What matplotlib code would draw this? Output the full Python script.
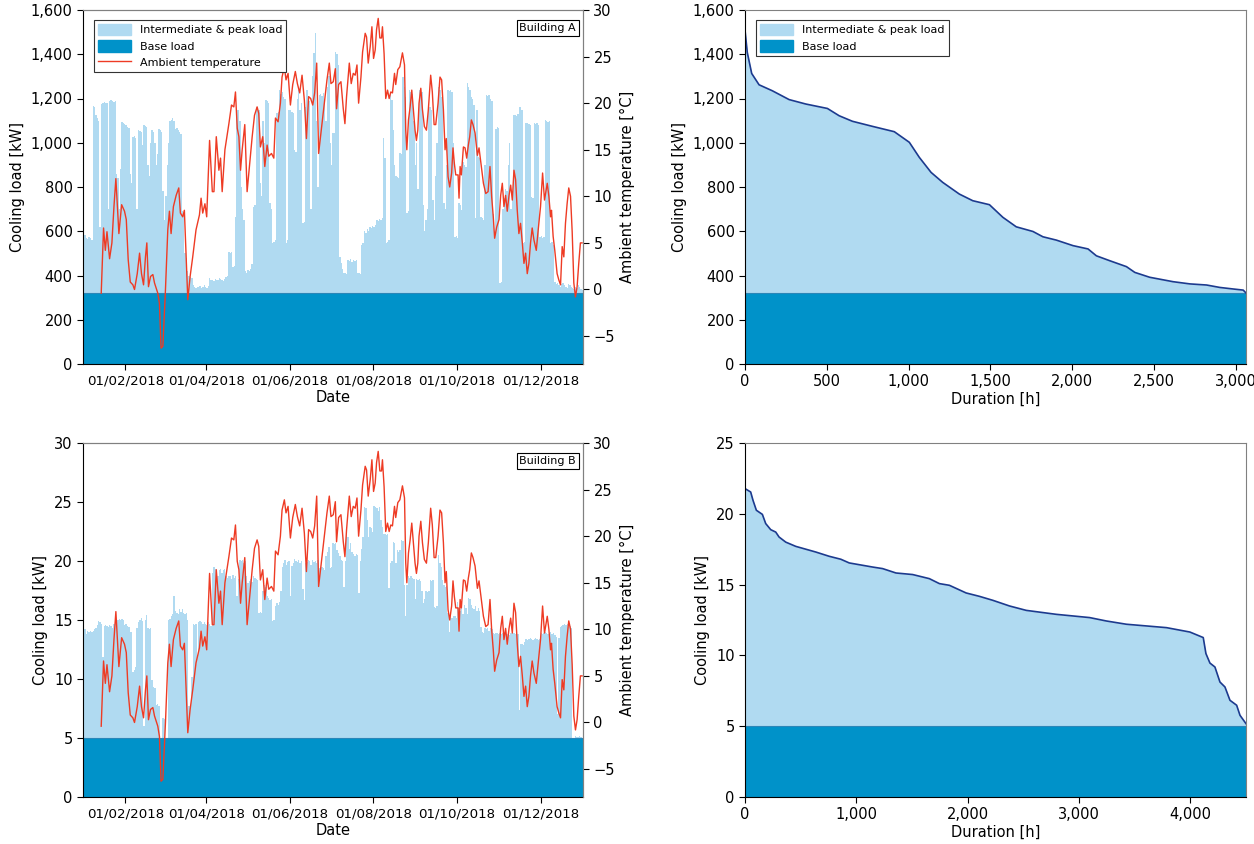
import numpy as np
import pandas as pd
import matplotlib
matplotlib.use('Agg')
import matplotlib.pyplot as plt
import matplotlib.dates as mdates
from matplotlib.patches import Patch
from matplotlib.lines import Line2D
from matplotlib.ticker import FuncFormatter, MultipleLocator

plt.rcParams['font.family'] = ['DejaVu Sans']

# daily cooling load, building A [kW] (1 Jan .. 31 Dec 2018)
load_a = [
    590, 585, 570, 565, 572, 568, 560, 1165, 1160, 1125,
    1110, 1100, 620, 1175, 1180, 1185, 1180, 1178, 700, 1190,
    1193, 1190, 1185, 1190, 860, 840, 700, 880, 1095, 1090,
    1085, 1080, 1070, 1065, 860, 820, 1026, 1030, 1020, 700,
    1058, 1055, 1050, 990, 1080, 1075, 1070, 900, 850, 1000,
    1058, 1050, 1000, 900, 950, 1060, 1058, 1050, 780, 650,
    760, 900, 1000, 1100, 1103, 1110, 1100, 1060, 1065, 1058,
    1050, 1040, 690, 680, 500, 480, 420, 400, 395, 390,
    355, 350, 345, 350, 348, 352, 345, 350, 355, 348,
    345, 352, 390, 380, 380, 375, 385, 378, 380, 390,
    385, 380, 375, 385, 395, 400, 507, 500, 505, 440,
    445, 666, 1148, 1150, 1100, 800, 700, 650, 420, 410,
    425, 420, 430, 450, 711, 720, 1163, 1160, 1150, 816,
    760, 1100, 1000, 1193, 1190, 1180, 726, 700, 546, 550,
    560, 1133, 1140, 1238, 1220, 1230, 1208, 1200, 546, 560,
    1150, 1148, 1140, 1135, 968, 960, 1200, 1238, 1150, 1180,
    636, 640, 1160, 1238, 1200, 1190, 700, 1300, 1404, 1494,
    1100, 800, 1215, 1220, 1210, 1225, 1200, 1100, 1250, 1300,
    1000, 900, 1042, 1042, 1412, 1400, 1350, 485, 455, 430,
    410, 410, 405, 470, 465, 475, 460, 470, 465, 470,
    410, 410, 405, 540, 545, 600, 590, 610, 600, 620,
    615, 625, 620, 630, 650, 645, 655, 650, 660, 1020,
    930, 546, 550, 560, 1215, 1193, 1058, 900, 850, 847,
    840, 952, 950, 1299, 1250, 1208, 681, 690, 1238, 1230,
    1220, 1100, 900, 1000, 790, 1240, 1238, 1230, 720, 600,
    650, 700, 1163, 1160, 1150, 740, 650, 850, 1000, 1252,
    1240, 1208, 1200, 726, 700, 900, 1238, 1235, 1240, 1230,
    1000, 576, 580, 570, 727, 720, 697, 914, 900, 892,
    1269, 1250, 1238, 1208, 1200, 1170, 660, 1150, 937, 930,
    666, 660, 650, 900, 1215, 1210, 1215, 1200, 1190, 680,
    600, 1060, 1070, 1065, 365, 370, 700, 750, 790, 780,
    900, 1000, 700, 750, 1125, 1125, 1120, 1130, 1163, 1160,
    1150, 546, 550, 1088, 1090, 1085, 1080, 757, 750, 1088,
    1085, 1090, 1080, 576, 580, 570, 575, 1103, 1100, 1095,
    1100, 546, 550, 540, 370, 360, 365, 355, 350, 360,
    365, 355, 350, 345, 360, 355, 350, 345, 340, 350,
    345, 355, 350, 340, 335,
]

# daily cooling load, building B [kW]
load_b = [
    14.0, 14.2, 13.8, 14.1, 14.0, 14.1, 14.0, 14.1, 14.2, 14.3,
    14.6, 14.9, 14.8, 14.7, 11.9, 14.5, 14.6, 14.5, 14.4, 14.6,
    14.5, 14.3, 14.7, 14.8, 15.1, 15.0, 15.1, 15.0, 15.1, 15.0,
    14.6, 14.7, 14.5, 14.4, 14.0, 14.0, 10.6, 10.8, 11.0, 14.3,
    14.8, 15.0, 15.2, 14.9, 6.0, 15.0, 15.4, 14.3, 14.2, 14.3,
    9.9, 9.3, 9.2, 7.8, 7.9, 7.7, 5.0, 5.0, 6.7, 6.6,
    5.0, 5.0, 15.0, 15.1, 15.3, 15.5, 17.0, 15.8, 15.6, 15.5,
    15.9, 15.7, 15.9, 15.6, 15.5, 15.6, 15.0, 7.7, 7.8, 10.2,
    14.7, 14.6, 14.7, 12.0, 14.8, 14.9, 14.8, 14.7, 14.8, 14.7,
    14.6, 14.8, 14.7, 14.5, 19.0, 19.5, 19.3, 19.2, 18.7, 19.2,
    19.3, 19.0, 19.2, 19.3, 18.7, 18.6, 18.7, 18.7, 18.5, 18.8,
    18.6, 18.7, 17.0, 18.5, 20.1, 20.0, 20.1, 19.8, 20.0, 18.7,
    18.1, 18.3, 18.5, 18.2, 18.7, 18.6, 18.5, 18.4, 15.6, 15.7,
    15.6, 17.5, 18.0, 17.8, 17.0, 16.9, 16.7, 16.8, 14.9, 15.0,
    16.2, 16.4, 16.3, 16.5, 17.5, 19.5, 19.8, 20.1, 19.7, 19.9,
    20.0, 17.0, 19.6, 19.8, 20.2, 20.0, 19.9, 20.1, 19.8, 20.0,
    17.6, 16.7, 19.8, 19.9, 20.1, 20.0, 19.7, 20.1, 19.9, 20.0,
    19.8, 20.1, 19.4, 19.3, 19.5, 19.4, 19.2, 20.4, 20.8, 21.2,
    19.4, 19.5, 21.5, 21.4, 21.5, 20.9, 20.7, 20.4, 20.1, 20.0,
    17.8, 20.0, 22.9, 22.0, 21.0, 21.5, 20.8, 20.6, 20.4, 20.6,
    20.5, 17.3, 20.0, 21.0, 22.0, 24.6, 24.5, 23.5, 22.0, 22.9,
    22.8, 22.5, 24.7, 24.6, 24.5, 24.2, 24.6, 23.5, 22.9, 22.3,
    22.3, 22.2, 22.3, 17.7, 19.8, 20.0, 21.6, 21.5, 19.8, 20.9,
    20.8, 20.9, 21.8, 21.7, 18.0, 15.3, 18.0, 18.7, 18.6, 18.7,
    18.6, 18.5, 16.8, 18.5, 18.4, 18.5, 18.3, 17.5, 16.4, 16.8,
    17.5, 17.4, 17.5, 18.4, 18.3, 18.4, 16.1, 16.0, 16.2, 20.5,
    19.8, 19.5, 18.4, 18.0, 17.8, 17.9, 15.6, 14.0, 15.3, 15.2,
    15.3, 15.3, 15.2, 16.5, 16.0, 15.8, 16.2, 15.5, 16.3, 16.0,
    15.5, 16.9, 16.8, 16.3, 16.0, 15.9, 16.2, 15.8, 16.0, 15.8,
    14.4, 14.0, 13.9, 14.3, 14.2, 14.3, 14.1, 14.3, 14.2, 13.9,
    13.8, 13.9, 13.9, 13.8, 13.9, 13.8, 13.9, 14.0, 13.9, 13.8,
    13.9, 13.7, 13.9, 14.0, 13.9, 13.8, 13.9, 13.8, 7.4, 13.0,
    13.0, 12.9, 13.1, 13.4, 13.3, 13.4, 13.5, 13.4, 13.3, 13.4,
    13.5, 13.4, 13.3, 13.4, 13.9, 13.8, 13.9, 14.0, 13.9, 13.8,
    13.9, 14.0, 13.8, 13.9, 13.7, 13.6, 7.0, 13.5, 14.4, 14.5,
    14.6, 14.7, 14.6, 14.7, 14.4, 14.5, 14.3, 5.0, 5.0, 5.2,
    5.1, 5.1, 5.2, 5.1, 5.0,
]

# ambient temperature [degC], day of year / value
temp_day = [
    13.3, 15.0, 16.3, 17.5, 19.4, 21.1, 22.6, 24.0, 26.2, 28.2, 30.3, 31.6, 33.0, 34.5, 36.4,
    37.6, 39.6, 41.3, 42.7, 44.2, 45.6, 46.6, 47.8, 49.3, 51.0, 52.2, 54.6, 55.8, 57.0, 58.3,
    60.2, 61.9, 63.1, 64.3, 66.0, 68.0, 69.9, 71.1, 72.8, 74.0, 75.2, 76.5, 78.2, 80.1, 82.5,
    85.0, 86.2, 87.4, 89.0, 90.3, 92.4, 94.4, 95.6, 97.3, 99.2, 100.4, 101.6, 103.6, 105.3, 106.5,
    108.4, 110.1, 111.3, 112.6, 113.8, 115.0, 116.2, 118.1, 119.8, 121.5, 123.5, 125.2, 127.1, 128.3, 129.5,
    131.2, 132.7, 134.4, 135.6, 137.6, 139.3, 140.5, 142.4, 144.1, 145.3, 147.0, 148.2, 149.7, 151.4, 153.1,
    155.0, 156.5, 158.2, 159.9, 161.6, 163.1, 164.7, 166.2, 167.7, 169.1, 170.6, 172.0, 174.5, 176.4, 178.1,
    179.8, 181.0, 182.7, 184.2, 185.1, 186.6, 188.3, 190.0, 191.2, 192.4, 194.4, 195.8, 197.3, 198.7, 200.0,
    201.2, 202.9, 204.1, 206.0, 207.0, 208.2, 209.7, 210.9, 212.1, 213.3, 214.3, 215.5, 216.7, 217.9, 218.6,
    219.8, 221.0, 222.3, 223.5, 224.7, 225.9, 227.4, 228.3, 229.8, 231.3, 233.2, 234.7, 235.6, 236.4, 237.6,
    238.8, 240.0, 241.2, 242.4, 243.4, 244.4, 245.3, 246.6, 247.8, 249.2, 250.7, 252.1, 253.8, 255.0, 256.3,
    257.5, 259.2, 260.6, 261.8, 263.1, 264.3, 265.2, 266.5, 267.7, 269.1, 270.1, 271.1, 272.1, 273.8, 274.5,
    275.3, 276.2, 277.7, 278.9, 280.1, 281.3, 282.3, 283.5, 284.7, 286.2, 287.9, 289.1, 290.8, 292.3, 294.0,
    295.7, 297.1, 298.3, 299.5, 300.5, 302.0, 303.7, 304.9, 306.1, 307.3, 308.5, 309.7, 311.0, 312.2, 313.4,
    314.6, 315.8, 317.0, 318.2, 319.4, 320.7, 321.9, 323.1, 324.3, 325.5, 326.7, 327.9, 329.2, 330.9, 332.3,
    334.0, 335.5, 336.9, 338.9, 340.1, 341.3, 342.0, 343.2, 344.4, 346.1, 347.4, 348.6, 349.8, 351.0, 352.2,
    353.4, 354.6, 355.9, 357.1, 358.3, 359.5, 360.7, 361.9, 363.1, 364.3,
]
temp_c = [
    -0.4, 6.6, 4.2, 6.2, 3.3, 5.0, 8.9, 11.9, 6.0, 9.1, 8.4, 7.5, 3.2, 0.8, 0.5,
    0.0, 1.7, 3.9, 1.7, 0.5, 3.5, 5.0, 0.3, 1.4, 1.6, 0.7, -0.4, -1.5, -6.3, -6.1,
    0.0, 6.4, 8.4, 6.0, 8.9, 10.1, 10.9, 8.2, 7.8, 8.5, 3.9, -1.1, 1.4, 3.5, 6.4,
    8.0, 9.8, 8.2, 9.2, 7.8, 16.0, 10.5, 10.5, 16.4, 12.8, 14.1, 10.5, 15.0, 16.6, 17.8,
    19.8, 19.6, 21.2, 17.3, 16.4, 12.8, 15.0, 17.7, 10.5, 13.2, 16.4, 18.7, 19.6, 18.9, 15.3,
    16.4, 13.2, 15.5, 14.3, 14.6, 14.1, 18.4, 18.0, 20.0, 22.8, 23.9, 22.5, 23.2, 19.8, 22.0,
    23.4, 22.1, 21.1, 23.0, 20.3, 16.2, 20.7, 20.5, 19.8, 21.1, 24.3, 14.6, 17.8, 20.3, 22.5,
    24.3, 22.1, 22.3, 23.7, 19.4, 22.0, 22.3, 19.4, 17.8, 20.7, 24.3, 22.1, 23.2, 23.0, 24.1,
    20.0, 22.8, 25.5, 27.5, 27.1, 24.3, 26.1, 28.2, 24.8, 25.7, 27.9, 29.1, 27.0, 27.0, 28.2,
    25.3, 20.5, 21.4, 20.5, 21.2, 21.1, 23.2, 22.0, 23.6, 23.9, 25.4, 24.1, 17.1, 15.0, 18.2,
    19.6, 21.4, 19.3, 17.1, 16.0, 17.1, 20.0, 21.6, 19.3, 17.5, 17.1, 19.3, 23.0, 21.2, 17.7,
    17.7, 20.0, 22.8, 22.5, 19.3, 15.0, 16.2, 12.1, 11.0, 12.5, 15.2, 13.5, 12.3, 12.3, 9.8,
    13.2, 12.3, 15.3, 15.2, 14.1, 15.5, 16.4, 18.2, 17.7, 16.8, 14.4, 15.2, 13.2, 11.4, 10.3,
    10.5, 13.2, 10.0, 7.8, 5.5, 6.7, 7.5, 10.1, 11.4, 8.9, 10.1, 8.4, 10.1, 11.2, 9.6,
    12.8, 11.8, 8.5, 6.0, 7.1, 5.0, 2.8, 3.9, 1.7, 2.8, 5.0, 6.6, 5.3, 4.2, 6.4,
    8.9, 12.5, 9.6, 11.4, 10.0, 7.8, 8.5, 5.7, 4.2, 1.7, 1.0, 0.5, 4.6, 3.5, 7.1,
    9.2, 10.9, 10.0, 6.2, 0.7, -0.8, 0.3, 2.8, 5.0, 5.0,
]

# load duration curves
dur_a = [0, 14, 41, 86, 167, 270, 372, 504, 576, 657, 780, 913, 1005, 1066, 1138, 1209,
         1311, 1393, 1495, 1577, 1659, 1761, 1822, 1904, 2006, 2098, 2149, 2230, 2333,
         2384, 2475, 2618, 2721, 2823, 2904, 2986, 3047, 3064]
cool_a = [1509, 1408, 1313, 1262, 1235, 1195, 1175, 1155, 1122, 1097, 1074, 1050, 1002,
          934, 866, 821, 768, 738, 720, 663, 620, 599, 575, 560, 535, 520, 489, 467, 440,
          414, 392, 372, 362, 357, 346, 339, 334, 321]
dur_b = [0, 51, 72, 102, 156, 186, 231, 276, 306, 366, 456, 636, 756, 861, 936, 1146,
         1236, 1356, 1506, 1656, 1746, 1836, 1986, 2106, 2226, 2376, 2526, 2796, 3096,
         3246, 3426, 3786, 3996, 4116, 4140, 4176, 4221, 4266, 4311, 4356, 4416, 4446, 4500]
cool_b = [21.78, 21.54, 20.95, 20.25, 19.96, 19.31, 18.88, 18.71, 18.36, 18.0, 17.7,
          17.3, 17.0, 16.79, 16.53, 16.24, 16.13, 15.82, 15.71, 15.42, 15.07, 14.95,
          14.41, 14.17, 13.89, 13.49, 13.18, 12.9, 12.67, 12.43, 12.2, 11.96, 11.65,
          11.26, 10.13, 9.46, 9.18, 8.12, 7.77, 6.83, 6.48, 5.77, 5.18]

base_a = 320
base_b = 5

light = '#b0daf1'
dark = '#0092c9'
red = '#ee3b24'
navy = '#1c3a8e'
grey = '#808080'

t0 = mdates.date2num(pd.Timestamp('2018-01-01'))
edges = t0 + np.arange(366)
temp_x = t0 + np.array(temp_day)
date_ticks = mdates.date2num(pd.to_datetime(['2018-02-01', '2018-04-01', '2018-06-01',
                                            '2018-08-01', '2018-10-01', '2018-12-01']))

fig = plt.figure(figsize=(12.54, 8.44), dpi=100)
W, H = 1254, 844
FS = 10.5


def box(x0, y0, x1, y1):
    return [x0 / W, 1 - y1 / H, (x1 - x0) / W, (y1 - y0) / H]


def style(ax):
    ax.spines['top'].set_color(grey)
    ax.spines['right'].set_color(grey)
    ax.tick_params(labelsize=FS, direction='out', length=4)


comma = FuncFormatter(lambda v, p: f'{v:,.0f}')


def make_legend(ax, handles):
    leg = ax.legend(handles=handles, loc='upper left', bbox_to_anchor=(0.022, 0.972),
                    borderaxespad=0, fontsize=8, fancybox=False, framealpha=1,
                    edgecolor='#333333', handlelength=3.0, handleheight=1.2,
                    borderpad=0.35, labelspacing=0.45)
    leg.get_frame().set_linewidth(0.8)


def left_panel(rect, load, base, ymax, ystep, name, legend):
    ax = fig.add_axes(rect)
    ax.stairs(load, edges, fill=True, color=light, linewidth=0)
    ax.axhspan(0, base, color=dark, linewidth=0)
    ax.axhline(base, color='#2b86b8', linewidth=0.8)
    ax.set_xlim(edges[0], edges[-1])
    ax.set_ylim(0, ymax)
    ax.yaxis.set_major_locator(MultipleLocator(ystep))
    ax.yaxis.set_major_formatter(comma)
    ax.set_xticks(date_ticks)
    ax.xaxis.set_major_formatter(mdates.DateFormatter('%d/%m/%Y'))
    ax.set_xlabel('Date', fontsize=FS, labelpad=2)
    ax.set_ylabel('Cooling load [kW]', fontsize=FS)
    style(ax)
    ax.tick_params(axis='x', labelsize=9.6)
    tx = ax.twinx()
    tx.plot(temp_x, temp_c, color=red, linewidth=1.0)
    tx.set_ylim(-8, 30)
    tx.set_yticks(np.arange(-5, 31, 5))
    tx.set_ylabel('Ambient temperature [°C]', fontsize=FS)
    style(tx)
    tx.spines['left'].set_visible(False)
    tx.spines['bottom'].set_visible(False)
    tx.text(0.986, 0.963, name, transform=tx.transAxes, ha='right', va='top', fontsize=8,
            bbox=dict(boxstyle='square,pad=0.25', fc='white', ec='black', lw=0.8))
    if legend:
        make_legend(tx, [Patch(color=light, label='Intermediate & peak load'),
                         Patch(color=dark, label='Base load'),
                         Line2D([], [], color=red, linewidth=1.0, label='Ambient temperature')])
    return ax


def right_panel(rect, dur, cool, base, ymax, ystep, xstep, legend):
    ax = fig.add_axes(rect)
    ax.fill_between(dur, 0, cool, color=light, linewidth=0)
    ax.axhspan(0, base, color=dark, linewidth=0)
    ax.axhline(base, color='#2b86b8', linewidth=0.8)
    ax.plot(dur, cool, color=navy, linewidth=1.2)
    ax.set_xlim(0, dur[-1])
    ax.set_ylim(0, ymax)
    ax.yaxis.set_major_locator(MultipleLocator(ystep))
    ax.xaxis.set_major_locator(MultipleLocator(xstep))
    ax.yaxis.set_major_formatter(comma)
    ax.xaxis.set_major_formatter(comma)
    ax.set_xlabel('Duration [h]', fontsize=FS, labelpad=2)
    ax.set_ylabel('Cooling load [kW]', fontsize=FS)
    style(ax)
    if legend:
        make_legend(ax, [Patch(color=light, label='Intermediate & peak load'),
                         Patch(color=dark, label='Base load')])
    return ax


left_panel(box(83, 10, 583, 364), load_a, base_a, 1600, 200, 'Building A', True)
right_panel(box(745, 10, 1246, 364), dur_a, cool_a, base_a, 1600, 200, 500, True)
left_panel(box(83, 443, 583, 797), load_b, base_b, 30, 5, 'Building B', False)
right_panel(box(745, 443, 1246, 797), dur_b, cool_b, base_b, 25, 5, 1000, False)

fig.savefig('out.png', dpi=100)
